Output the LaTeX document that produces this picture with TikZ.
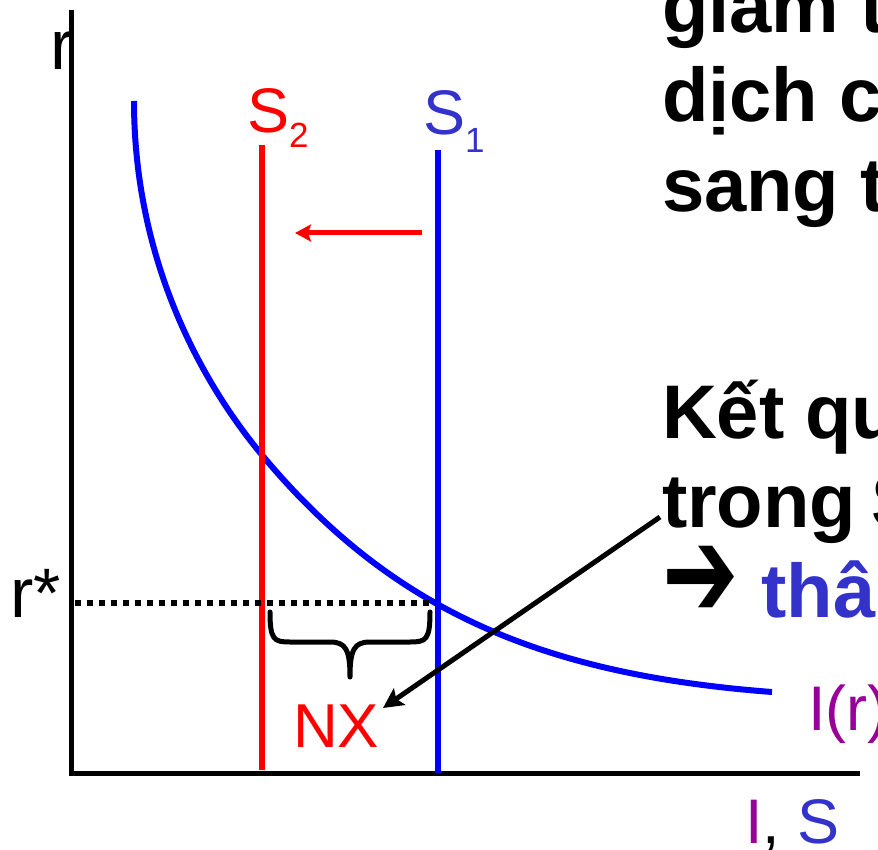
\documentclass[tikz,border=0pt]{standalone}
\usepackage{fontspec}
\setmainfont{Liberation Sans}
\newfontfamily\dvs{DejaVu Sans}
\usetikzlibrary{arrows.meta}
\definecolor{pblue}{HTML}{3333CC}
\definecolor{ppurple}{HTML}{990099}
\definecolor{pureblue}{HTML}{0000FF}
\definecolor{purered}{HTML}{FF0000}
\begin{document}
\begin{tikzpicture}[x=1pt,y=-1pt,
  every node/.style={inner sep=0pt,outer sep=0pt},
  lbl/.style={anchor=base west},
  big/.style={lbl,font=\bfseries\fontsize{76}{89}\selectfont},
  med/.style={lbl,font=\fontsize{63}{70}\selectfont},
  axisline/.style={line width=5pt},
  supply/.style={line width=5.5pt},
  bracepath/.style={line width=5pt,line cap=round,line join=round}]
\useasboundingbox (0,0) rectangle (878,850);
\clip (0,0) rectangle (878,850);
\fill[white] (0,0) rectangle (878,850);
% axes
\coordinate (ytop) at (71,10);
\coordinate (orig) at (71,773);
\coordinate (xend) at (860,773);
\draw[axisline] (ytop) -- (orig) -- (xend);
\node[lbl,font=\fontsize{70}{80}\selectfont] (rlab) at (50,70) {r};
\node[lbl,font=\fontsize{70}{80}\selectfont] (rstar) at (10,617) {r*};
% investment curve
\coordinate (cA) at (134,101);
\coordinate (cM) at (262,455);
\coordinate (cB) at (772,692);
\draw[pureblue,line width=6pt] (cA) .. controls (134,261) and (202,383) .. (cM)
  .. controls (392,611) and (542,674.5) .. (cB);
% supply lines
\coordinate (s2top) at (262,145);
\coordinate (s2bot) at (262,770);
\coordinate (s1top) at (438,150);
\coordinate (s1bot) at (438,773);
\draw[purered,supply] (s2top) -- (s2bot);
\draw[pureblue,supply] (s1top) -- (s1bot);
\node[med,text=purered] (s2lab) at (247,133) {S\raisebox{-15pt}{\fontsize{35}{40}\selectfont 2}};
\node[med,text=pblue] (s1lab) at (423,135) {S\raisebox{-18pt}{\fontsize{35}{40}\selectfont 1}};
% shift arrow
\coordinate (shA) at (422,233);
\coordinate (shB) at (295,233);
\draw[purered,line width=5pt,-{Stealth[length=16pt,width=17pt,inset=3pt]}] (shA) -- (shB);
% r* dotted line
\coordinate (dA) at (75,603);
\coordinate (dB) at (436,603);
\draw[line width=5.5pt,dash pattern=on 6pt off 6pt] (dA) -- (dB);
% brace
\coordinate (bL) at (270,612);
\coordinate (bR) at (430,612);
\coordinate (bT) at (350,677);
\draw[bracepath] (bL) .. controls (270,640) and (274,642) .. (290,642) -- (330,642)
  .. controls (346,642) and (350,650) .. (bT)
  .. controls (350,650) and (354,642) .. (370,642) -- (410,642)
  .. controls (426,642) and (430,640) .. (bR);
% NX
\node[lbl,text=purered,font=\fontsize{62}{70}\selectfont] (nx) at (293,747) {NX};
% labels right
\node[med,text=ppurple] (ir) at (808,730) {I(r)};
\node[med] (xlab) at (745,843) {\textcolor{ppurple}{I}, \textcolor{pblue}{S}};
% text block
\node[big] (l1) at (662,33) {giảm t};
\node[big] (l2) at (662,122) {dịch c};
\node[big] (l3) at (662,212) {sang t};
\node[big] (l4) at (662,438) {Kết qu};
\node[big] (l5) at (662,527) {trong\hspace{-6pt} S};
\node[big] (l6) at (662,617) {\scalebox{1.2}[1.7]{\dvs\bfseries ➔}\hspace{2pt} \textcolor{pblue}{thân}};
% pointer arrow
\coordinate (pA) at (660,517);
\coordinate (pB) at (383,708);
\draw[line width=5pt,-{Stealth[length=20pt,width=20pt,inset=4pt]}] (pA) -- (pB);
\end{tikzpicture}
\end{document}
